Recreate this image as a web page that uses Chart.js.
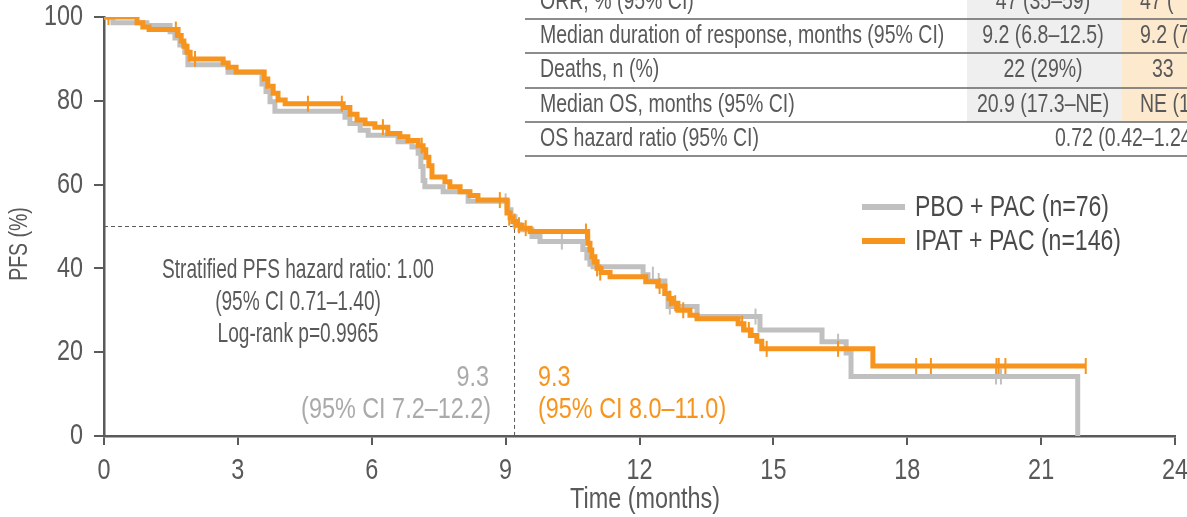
<!DOCTYPE html>
<html>
<head>
<meta charset="utf-8">
<script src="https://cdn.jsdelivr.net/npm/chart.js@4.4.1/dist/chart.umd.min.js"></script>
<style>
  html, body { margin: 0; padding: 0; background: #fff; }
  #wrap { width: 1187px; height: 517px; position: relative; }
</style>
</head>
<body>
<div id="wrap"><canvas id="chart"></canvas></div>
<script>
// KM step points (months, PFS %)
const ipatTime = [0, 0.74, 0.87, 1.01, 1.66, 1.73, 1.79, 1.86, 1.93, 2.67, 2.78, 2.96, 3.59, 3.67, 3.79, 3.90, 4.06, 5.36, 5.51, 5.67, 5.85, 6.07, 6.36, 6.63, 6.81, 7.04, 7.15, 7.21, 7.28, 7.35, 7.64, 7.75, 7.98, 8.20, 8.38, 9.03, 9.10, 9.16, 9.25, 9.37, 9.55, 10.84, 10.89, 10.93, 11.00, 11.05, 11.14, 11.34, 12.14, 12.41, 12.57, 12.66, 12.73, 12.86, 13.13, 13.29, 14.21, 14.34, 14.50, 14.63, 14.74, 17.23, 22.0];
const ipatPfs = [100, 98.6, 97.6, 97.0, 95.6, 94.3, 93.0, 91.6, 90.0, 89.0, 88.0, 86.9, 85.2, 83.5, 81.8, 80.2, 79.3, 78.4, 76.8, 75.4, 74.5, 73.7, 72.2, 71.4, 70.5, 69.3, 68.3, 66.5, 64.5, 61.8, 60.7, 59.5, 58.3, 57.4, 56.3, 53.2, 52.1, 51.2, 50.3, 49.6, 48.8, 46.0, 44.4, 42.8, 41.6, 40.0, 39.0, 38.0, 36.8, 35.8, 34.0, 32.8, 31.7, 30.0, 28.8, 28.0, 26.8, 25.3, 24.0, 22.6, 20.8, 16.7, 16.7];
const ipatCensTime = [0.10, 1.61, 2.04, 4.57, 5.33, 6.25, 7.12, 8.87, 9.08, 9.20, 9.30, 9.45, 10.80, 10.95, 11.05, 11.12, 12.45, 12.68, 12.80, 12.98, 14.30, 14.45, 14.85, 16.45, 18.20, 18.53, 20.00, 20.05, 20.20, 22.00];
const ipatCensPfs = [100, 97.0, 90.0, 79.3, 79.3, 73.7, 69.3, 56.3, 52.1, 51.2, 50.3, 49.6, 48.8, 42.8, 40.0, 39.0, 35.8, 32.8, 31.7, 30.0, 26.8, 25.3, 20.8, 20.8, 16.7, 16.7, 16.7, 16.7, 16.7, 16.7];

const pboTime = [0, 0.20, 0.96, 1.48, 1.59, 1.70, 1.81, 1.88, 2.78, 3.54, 3.63, 3.72, 3.83, 5.40, 5.51, 5.74, 5.92, 6.59, 6.90, 7.04, 7.10, 7.15, 7.19, 7.60, 8.16, 9.05, 9.12, 9.21, 9.32, 9.59, 9.77, 10.73, 10.82, 10.89, 10.96, 12.08, 12.19, 12.57, 12.64, 13.29, 14.70, 16.09, 16.63, 16.74, 21.82];
const pboPfs = [100, 98.6, 98.0, 96.5, 95.0, 93.3, 91.6, 88.6, 86.8, 84.0, 82.2, 79.8, 77.5, 76.1, 74.6, 73.0, 71.8, 70.2, 69.0, 67.5, 64.3, 61.0, 59.5, 58.3, 56.0, 54.0, 52.3, 50.4, 49.2, 47.6, 46.4, 44.5, 42.5, 41.0, 40.4, 38.5, 37.0, 34.0, 30.9, 28.5, 25.3, 22.5, 19.8, 14.2, 0];
const pboCensTime = [9.00, 10.26, 12.30, 12.43, 12.68, 14.60, 16.45, 19.99, 20.10];
const pboCensPfs = [56.0, 46.4, 38.5, 37.0, 30.9, 28.5, 22.5, 14.2, 14.2];

const seriesNames = ['PBO + PAC (n=76)', 'IPAT + PAC (n=146)'];
const xTitle = 'Time (months)';
const yTitle = 'PFS (%)';
const medianTime = 9.2;
const medianPfs = 50;

const tableLabels = ['ORR, % (95% CI)', 'Median duration of response, months (95% CI)', 'Deaths, n (%)', 'Median OS, months (95% CI)', 'OS hazard ratio (95% CI)'];
const pboValues = ['47 (35–59)', '9.2 (6.8–12.5)', '22 (29%)', '20.9 (17.3–NE)'];
const ipatValues = ['47 (', '9.2 (7', '33', 'NE (1'];
const osHazard = '0.72 (0.42–1.24';

const hrText = ['Stratified PFS hazard ratio: 1.00', '(95% CI 0.71–1.40)', 'Log-rank p=0.9965'];
const pboMedianText = ['9.3', '(95% CI 7.2–12.2)'];
const ipatMedianText = ['9.3', '(95% CI 8.0–11.0)'];

const GREY = '#c0c0c0';
const ORANGE = '#f7941d';
const AXIS = '#5a5a5a';
const TEXT = '#595959';
const FONT = "'Liberation Sans', Arial, sans-serif";
const SX = 0.78; // the original type is a condensed face

const pts = (xs, ys) => xs.map((x, i) => ({ x: x, y: ys[i] }));

// condensed text: squeeze horizontally
function say(ctx, s, x, y, size, color, align, rot, sx) {
  const k = sx || SX;
  ctx.save();
  ctx.translate(x, y);
  if (rot) ctx.rotate(rot);
  ctx.scale(k, 1);
  ctx.font = size + 'px ' + FONT;
  ctx.fillStyle = color;
  ctx.textAlign = align;
  ctx.textBaseline = 'middle';
  ctx.fillText(s, 0, 0);
  const w = ctx.measureText(s).width * k;
  ctx.restore();
  return w;
}

const extras = {
  id: 'extras',
  beforeDatasetsDraw(chart) {
    const { ctx, scales: { x, y } } = chart;
    ctx.save();
    ctx.strokeStyle = TEXT;
    ctx.lineWidth = 1;
    ctx.setLineDash([4, 3]);
    ctx.beginPath();
    ctx.moveTo(x.getPixelForValue(0), y.getPixelForValue(medianPfs));
    ctx.lineTo(x.getPixelForValue(medianTime), y.getPixelForValue(medianPfs));
    ctx.lineTo(x.getPixelForValue(medianTime), y.getPixelForValue(0));
    ctx.stroke();
    ctx.restore();
  },
  afterDraw(chart) {
    const { ctx, scales: { x, y } } = chart;

    // tick labels from the library's own ticks
    x.ticks.forEach(t => say(ctx, String(t.value), x.getPixelForValue(t.value), 471, 30, TEXT, 'center'));
    y.ticks.forEach(t => say(ctx, String(t.value), 83, y.getPixelForValue(t.value), 30, TEXT, 'right'));
    say(ctx, xTitle, 645, 500, 30, TEXT, 'center');
    say(ctx, yTitle, 20, 244, 25, TEXT, 'center', -Math.PI / 2);

    // hazard ratio block
    hrText.forEach((t, i) => say(ctx, t, 298, 270 + i * 32, 27.5, TEXT, 'center', 0, 0.695));

    // medians
    say(ctx, pboMedianText[0], 489, 378, 30, '#aaaaaa', 'right');
    say(ctx, pboMedianText[1], 491, 410, 30, '#aaaaaa', 'right');
    say(ctx, ipatMedianText[0], 538, 378, 30, ORANGE, 'left');
    say(ctx, ipatMedianText[1], 538, 410, 30, ORANGE, 'left');

    // legend
    ctx.save();
    [GREY, ORANGE].forEach((c, i) => {
      const ly = 207 + i * 34;
      ctx.strokeStyle = c;
      ctx.lineWidth = 6;
      ctx.beginPath();
      ctx.moveTo(862, ly);
      ctx.lineTo(905, ly);
      ctx.stroke();
      say(ctx, seriesNames[i], 915, ly + 1, 29.5, '#4a4a4a', 'left');
    });

    // table
    ctx.fillStyle = '#efefef';
    ctx.fillRect(967, 0, 155, 122);
    ctx.fillStyle = '#fde9cd';
    ctx.fillRect(1122, 0, 70, 122);
    ctx.strokeStyle = '#666';
    ctx.lineWidth = 1.5;
    [19, 53, 88, 122, 156].forEach(ly => {
      ctx.beginPath();
      ctx.moveTo(525, ly);
      ctx.lineTo(1187, ly);
      ctx.stroke();
    });
    ctx.restore();
    tableLabels.forEach((t, i) => {
      const ry = 2 + i * 34.3;
      const w = say(ctx, t, 540, ry, 25, TEXT, 'left');
      if (i === 0) say(ctx, 'a', 541 + w, ry - 6, 14, TEXT, 'left');
      if (i < pboValues.length) {
        say(ctx, pboValues[i], 1043, ry, 25, TEXT, 'center');
        say(ctx, ipatValues[i], i === 2 ? 1152 : 1140, ry, 25, TEXT, 'left');
      } else {
        say(ctx, osHazard, 1055, ry, 25, TEXT, 'left');
      }
    });
  }
};

const censorStyle = {
  showLine: false,
  pointStyle: 'line',
  rotation: 90,
  pointRadius: 8,
  pointBorderWidth: 2
};

new Chart(document.getElementById('chart'), {
  type: 'line',
  data: {
    datasets: [
      Object.assign({ data: pts(ipatCensTime, ipatCensPfs), borderColor: ORANGE, backgroundColor: ORANGE, order: 0 }, censorStyle),
      { data: pts(ipatTime, ipatPfs), borderColor: ORANGE, borderWidth: 5, stepped: 'before', pointRadius: 0, fill: false, order: 1 },
      Object.assign({ data: pts(pboCensTime, pboCensPfs), borderColor: GREY, backgroundColor: GREY, order: 2 }, censorStyle),
      { data: pts(pboTime, pboPfs), borderColor: GREY, borderWidth: 5, stepped: 'before', pointRadius: 0, fill: false, order: 3 }
    ]
  },
  options: {
    responsive: true,
    maintainAspectRatio: false,
    animation: false,
    layout: { padding: { top: 17, right: 12, left: 0, bottom: 0 } },
    plugins: { legend: { display: false }, tooltip: { enabled: false } },
    scales: {
      x: {
        type: 'linear',
        min: 0,
        max: 24,
        ticks: { stepSize: 3, display: false },
        grid: { drawOnChartArea: false, tickLength: 9, color: AXIS, lineWidth: 2 },
        border: { color: AXIS, width: 2.5 },
        afterFit: s => { s.height = 81; s.paddingLeft = 0; s.paddingRight = 0; }
      },
      y: {
        min: 0,
        max: 100,
        ticks: { stepSize: 20, display: false },
        grid: { drawOnChartArea: false, tickLength: 10, color: AXIS, lineWidth: 2 },
        border: { color: AXIS, width: 2.5 },
        afterFit: s => { s.width = 104; s.paddingTop = 0; s.paddingBottom = 0; }
      }
    }
  },
  plugins: [extras]
});
</script>
</body>
</html>
